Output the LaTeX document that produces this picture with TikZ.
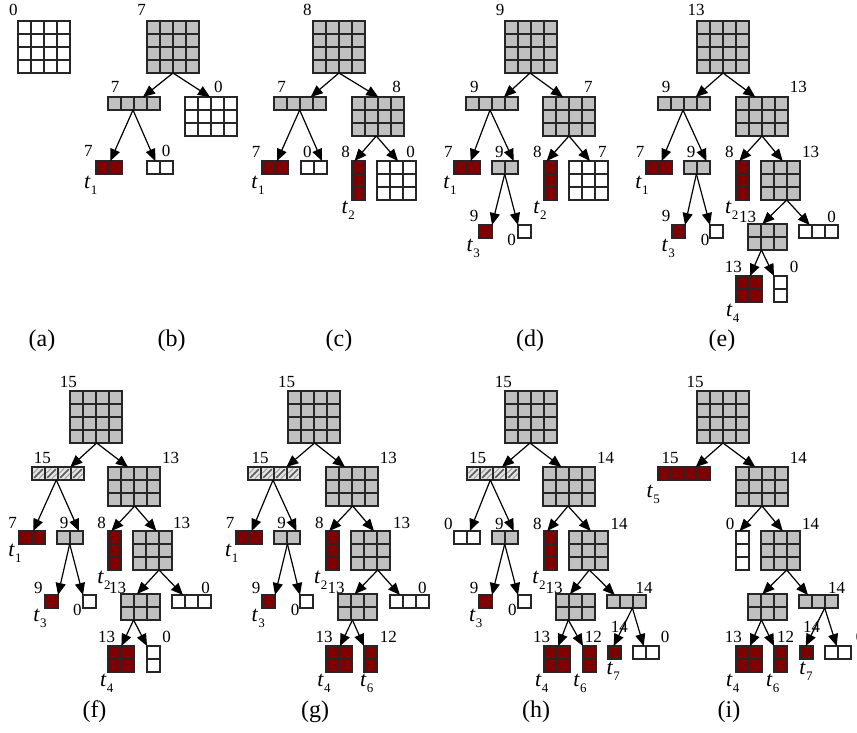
\documentclass[tikz,border=0pt]{standalone}
\usepackage{fontspec}
\setmainfont{Liberation Serif}
\usetikzlibrary{arrows.meta}

\definecolor{cellgray}{RGB}{192,192,192}
\definecolor{cellred}{RGB}{128,0,0}
\newcommand\cellsz{13pt}

% grid block: name, left x, top y, columns, rows, fill style (corner snapped to whole units)
\newcommand\blk[6]{%
  \node[cellbox,#6,minimum width=#4*\cellsz,minimum height=#5*\cellsz] (#1) at ({round(#2)},{round(#3)}) {};
  \foreach \k in {0,...,#4}{\draw[gridline] ([xshift=\k*\cellsz]#1.north west) -- ([xshift=\k*\cellsz]#1.south west);}
  \foreach \k in {0,...,#5}{\draw[gridline] ([yshift=-\k*\cellsz]#1.north west) -- ([yshift=-\k*\cellsz]#1.north east);}
}
% diagonal hatching of a one-row bar: name, columns
\newcommand\hatchcells[2]{%
  \foreach \k in {1,...,#2}{%
    \draw[hatchline] ([xshift=(\k-1)*\cellsz+2.5pt,yshift=2.5pt]#1.south west) -- ([xshift=\k*\cellsz-2.5pt,yshift=-2.5pt]#1.north west);
    \draw[hatchthin] ([xshift=(\k-1)*\cellsz+1.5pt,yshift=-6pt]#1.north west) -- ([xshift=(\k-1)*\cellsz+6pt,yshift=-1.5pt]#1.north west);
    \draw[hatchthin] ([xshift=\k*\cellsz-6pt,yshift=1.5pt]#1.south west) -- ([xshift=\k*\cellsz-1.5pt,yshift=6pt]#1.south west);
  }
}
% value label, t label, arrow
\newcommand\lab[4]{\node[numlab] (#1) at (#2,#3) {#4};}
\newcommand\tlab[4]{\node[tlabel] (#1) at (#2,#3) {\textit{t}\kern0.3pt\raisebox{-0.28em}{\fontsize{13}{13}\selectfont #4}};}
\newcommand\arr[4]{\draw[conn] ([xshift=#2pt]#1.south west) -- ([xshift=#4pt]#3.north west);}

\begin{document}
\begin{tikzpicture}[x=1pt,y=-1pt,
  cellbox/.style={rectangle,anchor=north west,inner sep=0pt,outer sep=0pt,draw=none},
  gcell/.style={fill=cellgray},
  rcell/.style={fill=cellred},
  wcell/.style={fill=white},
  hcell/.style={fill=gray!22},
  gridline/.style={line width=2pt,draw=black!85,line cap=rect},
  hatchline/.style={line width=1.6pt,draw=black!65,line cap=round},
  hatchthin/.style={line width=0.8pt,draw=black!40,line cap=round},
  numlab/.style={inner sep=0pt,font=\fontsize{17}{17}\selectfont},
  tlabel/.style={inner sep=0pt,font=\fontsize{22}{22}\selectfont},
  plab/.style={inner sep=0pt,font=\fontsize{24}{24}\selectfont},
  conn/.style={line width=1.2pt,-{Triangle[length=12pt,width=10pt]}}]

\fill[white] (0,0) rectangle (857,733);
\useasboundingbox (0,0) rectangle (857,733);

% ---------- (a)
\blk{a0}{18.3}{20.7}{4}{4}{wcell} \lab{a0n}{13.3}{10}{0}
\node[plab] (pa) at (42,341) {(a)};

% ---------- (b)
\blk{b0}{146.7}{20.7}{4}{4}{gcell} \lab{b0n}{141.7}{10}{7}
\blk{b1}{108.3}{97}{4}{1}{gcell} \lab{b1n}{115}{87.3}{7}
\blk{b2}{185}{97}{4}{3}{wcell} \lab{b2n}{218.3}{87.3}{0}
\blk{b3}{95.7}{161}{2}{1}{rcell} \lab{b3n}{88.3}{151}{7} \tlab{b3t}{90.7}{185}{1}
\blk{b4}{146.7}{161}{2}{1}{wcell} \lab{b4n}{166}{151}{0}
\arr{b0}{26}{b1}{35} \arr{b0}{26}{b2}{25}
\arr{b1}{25}{b3}{14.3} \arr{b1}{25}{b4}{8.3}
\node[plab] (pb) at (171.7,341) {(b)};

% ---------- (c)
\blk{c0}{313.3}{20.7}{4}{4}{gcell} \lab{c0n}{307.3}{10}{8}
\blk{c1}{274.3}{97}{4}{1}{gcell} \lab{c1n}{281.7}{87.3}{7}
\blk{c2}{351.7}{97}{4}{3}{gcell} \lab{c2n}{396.7}{87.3}{8}
\blk{c3}{262.3}{161}{2}{1}{rcell} \lab{c3n}{256}{151.7}{7} \tlab{c3t}{258}{185}{1}
\blk{c4}{300.7}{161}{2}{1}{wcell} \lab{c4n}{307.3}{151.7}{0}
\blk{c5}{351.7}{161}{1}{3}{rcell} \lab{c5n}{345.7}{151.7}{8} \tlab{c5t}{348.3}{210.7}{2}
\blk{c6}{377.3}{161}{3}{3}{wcell} \lab{c6n}{410.7}{151.7}{0}
\arr{c0}{26}{c1}{36.7} \arr{c0}{26}{c2}{26.3}
\arr{c1}{25.7}{c3}{15} \arr{c1}{25.7}{c4}{21}
\arr{c2}{24.3}{c5}{2.6} \arr{c2}{24.3}{c6}{21}
\node[plab] (pc) at (339,341) {(c)};

% ---------- (d)
\blk{d0}{505}{20.7}{4}{4}{gcell} \lab{d0n}{500}{10}{9}
\blk{d1}{466}{97}{4}{1}{gcell} \lab{d1n}{474.3}{87.3}{9}
\blk{d2}{543.3}{97}{4}{3}{gcell} \lab{d2n}{588.3}{87.3}{7}
\blk{d3}{454}{161}{2}{1}{rcell} \lab{d3n}{448.3}{151.7}{7} \tlab{d3t}{450}{185}{1}
\blk{d4}{492.3}{161}{2}{1}{gcell} \lab{d4n}{499.3}{151.7}{9}
\blk{d5}{544}{161}{1}{3}{rcell} \lab{d5n}{537.3}{151.7}{8} \tlab{d5t}{540}{210.7}{2}
\blk{d6}{569}{161}{3}{3}{wcell} \lab{d6n}{602.3}{151.7}{7}
\blk{d7}{479.3}{225}{1}{1}{rcell} \lab{d7n}{474}{216}{9} \tlab{d7t}{473.3}{248.3}{3}
\blk{d8}{517.7}{225}{1}{1}{wcell} \lab{d8n}{511.7}{240}{0}
\arr{d0}{25}{d1}{38} \arr{d0}{25}{d2}{20}
\arr{d1}{24}{d3}{16.7} \arr{d1}{24}{d4}{21.7}
\arr{d2}{26}{d5}{2.7} \arr{d2}{26}{d6}{21}
\arr{d4}{12.7}{d7}{13} \arr{d4}{12.7}{d8}{0}
\node[plab] (pd) at (530,341) {(d)};

% ---------- (e)
\blk{e0}{697.3}{20.7}{4}{4}{gcell} \lab{e0n}{696}{10}{13}
\blk{e1}{658.3}{97}{4}{1}{gcell} \lab{e1n}{666}{87.3}{9}
\blk{e2}{735.7}{97}{4}{3}{gcell} \lab{e2n}{798.3}{87.3}{13}
\blk{e3}{646}{161}{2}{1}{rcell} \lab{e3n}{640}{151.7}{7} \tlab{e3t}{642}{185}{1}
\blk{e4}{684.3}{161}{2}{1}{gcell} \lab{e4n}{691}{151.7}{9}
\blk{e5}{736}{161}{1}{3}{rcell} \lab{e5n}{729.3}{151.7}{8} \tlab{e5t}{731.7}{210.7}{2}
\blk{e6}{761}{161}{3}{3}{gcell} \lab{e6n}{810.7}{151.7}{13}
\blk{e7}{671.7}{225}{1}{1}{rcell} \lab{e7n}{666}{216}{9} \tlab{e7t}{668.3}{248.3}{3}
\blk{e8}{710}{225}{1}{1}{wcell} \lab{e8n}{705}{240}{0}
\blk{e9}{748.3}{224.3}{3}{2}{gcell} \lab{e9n}{747.5}{216.7}{13}
\blk{e10}{799.3}{225}{3}{1}{wcell} \lab{e10n}{831.7}{216.7}{0}
\blk{e11}{736}{276}{2}{2}{rcell} \lab{e11n}{733.3}{266.7}{13} \tlab{e11t}{732.7}{313.3}{4}
\blk{e12}{774.3}{276}{1}{2}{wcell} \lab{e12n}{794}{266.7}{0}
\arr{e0}{26}{e1}{37.7} \arr{e0}{26}{e2}{19.3}
\arr{e1}{25}{e3}{15.7} \arr{e1}{25}{e4}{22.4}
\arr{e4}{12.4}{e7}{13} \arr{e4}{12.4}{e8}{0}
\arr{e2}{26}{e5}{3.3} \arr{e2}{26}{e6}{21.7}
\arr{e6}{25.7}{e9}{14.4} \arr{e6}{25.7}{e10}{10.7}
\arr{e9}{13.4}{e11}{14} \arr{e9}{13.4}{e12}{0}
\node[plab] (pe) at (722,341) {(e)};

% ---------- (f)
\blk{f0}{70}{390.7}{4}{4}{gcell} \lab{f0n}{68.3}{381.7}{15}
\blk{f1}{31.7}{467}{4}{1}{hcell} \hatchcells{f1}{4} \lab{f1n}{42.3}{458.3}{15}
\blk{f2}{108.3}{467}{4}{3}{gcell} \lab{f2n}{170.7}{458.3}{13}
\blk{f3}{19}{531}{2}{1}{rcell} \lab{f3n}{12.7}{523.3}{7} \tlab{f3t}{15}{553.3}{1}
\blk{f4}{57.3}{531}{2}{1}{gcell} \lab{f4n}{64}{523.3}{9}
\blk{f5}{108.3}{531}{1}{3}{rcell} \lab{f5n}{101.7}{523.3}{8} \tlab{f5t}{104}{580.7}{2}
\blk{f6}{133.3}{531}{3}{3}{gcell} \lab{f6n}{181.7}{523.3}{13}
\blk{f7}{45}{595}{1}{1}{rcell} \lab{f7n}{38.3}{588.3}{9} \tlab{f7t}{40}{618.3}{3}
\blk{f8}{83.3}{595}{1}{1}{wcell} \lab{f8n}{77.3}{610}{0}
\blk{f9}{120.7}{594.3}{3}{2}{gcell} \lab{f9n}{117.5}{588.3}{13}
\blk{f10}{172.3}{595}{3}{1}{wcell} \lab{f10n}{205.7}{588.3}{0}
\blk{f11}{108.3}{646}{2}{2}{rcell} \lab{f11n}{106.7}{636.7}{13} \tlab{f11t}{106.7}{683.3}{4}
\blk{f12}{146.7}{646}{1}{2}{wcell} \lab{f12n}{166.7}{636.7}{0}
\arr{f0}{26.7}{f1}{38.3} \arr{f0}{26.7}{f2}{20}
\arr{f1}{24.3}{f3}{14.3} \arr{f1}{24.3}{f4}{22}
\arr{f4}{12.7}{f7}{13} \arr{f4}{12.7}{f8}{0}
\arr{f2}{26.7}{f5}{3.4} \arr{f2}{26.7}{f6}{23.4}
\arr{f6}{26}{f9}{16} \arr{f6}{26}{f10}{11}
\arr{f9}{12.6}{f11}{13.4} \arr{f9}{12.6}{f12}{0}
\node[plab] (pf) at (94.5,712) {(f)};

% ---------- (g)
\blk{g0}{287.7}{390.7}{4}{4}{gcell} \lab{g0n}{286.7}{381.7}{15}
\blk{g1}{248.3}{467}{4}{1}{hcell} \hatchcells{g1}{4} \lab{g1n}{260}{458.3}{15}
\blk{g2}{326}{467}{4}{3}{gcell} \lab{g2n}{388.3}{458.3}{13}
\blk{g3}{236}{531}{2}{1}{rcell} \lab{g3n}{230}{523.3}{7} \tlab{g3t}{231.7}{553.3}{1}
\blk{g4}{274.3}{531}{2}{1}{gcell} \lab{g4n}{281.7}{523.3}{9}
\blk{g5}{326}{531}{1}{3}{rcell} \lab{g5n}{319.3}{523.3}{8} \tlab{g5t}{320.7}{580.7}{2}
\blk{g6}{351}{531}{3}{3}{gcell} \lab{g6n}{401.7}{523.3}{13}
\blk{g7}{261.7}{595}{1}{1}{rcell} \lab{g7n}{256}{588.3}{9} \tlab{g7t}{258.3}{618.3}{3}
\blk{g8}{300}{595}{1}{1}{wcell} \lab{g8n}{295}{610}{0}
\blk{g9}{338.3}{594.3}{3}{2}{gcell} \lab{g9n}{336}{588.3}{13}
\blk{g10}{390}{595}{3}{1}{wcell} \lab{g10n}{422.3}{588.3}{0}
\blk{g11}{326}{646}{2}{2}{rcell} \lab{g11n}{324}{636.7}{13} \tlab{g11t}{324}{683.3}{4}
\blk{g12}{364.3}{646}{1}{2}{rcell} \lab{g12n}{388.3}{636.7}{12} \tlab{g12t}{366.7}{683.3}{6}
\arr{g0}{26.6}{g1}{38.4} \arr{g0}{26.6}{g2}{19}
\arr{g1}{25}{g3}{15.7} \arr{g1}{25}{g4}{22.4}
\arr{g4}{13.4}{g7}{13} \arr{g4}{13.4}{g8}{0}
\arr{g2}{26.7}{g5}{3.3} \arr{g2}{26.7}{g6}{23}
\arr{g6}{26.7}{g9}{16.7} \arr{g6}{26.7}{g10}{10}
\arr{g9}{14.4}{g11}{14} \arr{g9}{14.4}{g12}{0}
\node[plab] (pg) at (315,712) {(g)};

% ---------- (h)
\blk{h0}{505}{390.7}{4}{4}{gcell} \lab{h0n}{503.3}{381.7}{15}
\blk{h1}{466.7}{467}{4}{1}{hcell} \hatchcells{h1}{4} \lab{h1n}{477.7}{458.3}{15}
\blk{h2}{543.3}{467}{4}{3}{gcell} \lab{h2n}{605.7}{458.3}{14}
\blk{h3}{454}{531}{2}{1}{wcell} \lab{h3n}{448.3}{524}{0}
\blk{h4}{492.3}{531}{2}{1}{gcell} \lab{h4n}{499.3}{524}{9}
\blk{h5}{544}{531}{1}{3}{rcell} \lab{h5n}{537.3}{524}{8} \tlab{h5t}{539}{580.7}{2}
\blk{h6}{569}{531}{3}{3}{gcell} \lab{h6n}{619}{524}{14}
\blk{h7}{479.3}{595}{1}{1}{rcell} \lab{h7n}{474}{588.3}{9} \tlab{h7t}{475.7}{618.3}{3}
\blk{h8}{517.7}{595}{1}{1}{wcell} \lab{h8n}{512.3}{610}{0}
\blk{h9}{556}{594.3}{3}{2}{gcell} \lab{h9n}{554}{588.3}{13}
\blk{h10}{607.3}{595}{3}{1}{gcell} \lab{h10n}{644}{588.3}{14}
\blk{h11}{544}{646}{2}{2}{rcell} \lab{h11n}{541.7}{636.7}{13} \tlab{h11t}{541.7}{683.3}{4}
\blk{h12}{582.7}{646}{1}{2}{rcell} \lab{h12n}{593.3}{636.7}{12} \tlab{h12t}{580}{683.3}{6}
\blk{h13}{607.7}{646}{1}{1}{rcell} \lab{h13n}{619.3}{626.7}{14} \tlab{h13t}{613.3}{671.7}{7}
\blk{h14}{633.3}{646}{2}{1}{wcell} \lab{h14n}{665}{636.7}{0}
\arr{h0}{25}{h1}{35} \arr{h0}{25}{h2}{18.4}
\arr{h1}{23.3}{h3}{16} \arr{h1}{23.3}{h4}{21.7}
\arr{h4}{12.7}{h7}{13} \arr{h4}{12.7}{h8}{0}
\arr{h2}{25}{h5}{3.3} \arr{h2}{25}{h6}{21.7}
\arr{h6}{20.3}{h9}{14} \arr{h6}{20.3}{h10}{7.7}
\arr{h9}{12.3}{h11}{14.3} \arr{h9}{12.3}{h12}{0}
\arr{h10}{25.4}{h13}{5.6} \arr{h10}{25.4}{h14}{10.7}
\node[plab] (ph) at (536,712) {(h)};

% ---------- (i)
\blk{i0}{697.3}{390.7}{4}{4}{gcell} \lab{i0n}{695}{381.7}{15}
\blk{i1}{658.3}{467}{4}{1}{rcell} \lab{i1n}{670}{458.3}{15} \tlab{i1t}{653.3}{494}{5}
\blk{i2}{735.7}{467}{4}{3}{gcell} \lab{i2n}{798.3}{458.3}{14}
\blk{i5}{735.7}{531}{1}{3}{wcell} \lab{i5n}{730}{524}{0}
\blk{i6}{761}{531}{3}{3}{gcell} \lab{i6n}{810.7}{524}{14}
\blk{i9}{748.3}{594.3}{3}{2}{gcell}
\blk{i10}{799.3}{595}{3}{1}{gcell} \lab{i10n}{836.7}{588.3}{14}
\blk{i11}{736}{646}{2}{2}{rcell} \lab{i11n}{733.3}{636.7}{13} \tlab{i11t}{732.7}{683.3}{4}
\blk{i12}{774.3}{646}{1}{2}{rcell} \lab{i12n}{785.7}{636.7}{12} \tlab{i12t}{772.7}{683.3}{6}
\blk{i13}{800}{646}{1}{1}{rcell} \lab{i13n}{811.7}{626.7}{14} \tlab{i13t}{806}{671.7}{7}
\blk{i14}{825}{646}{2}{1}{wcell} \lab{i14n}{860}{636.7}{0}
\arr{i0}{26}{i1}{37.7} \arr{i0}{26}{i2}{19.3}
\arr{i2}{26}{i5}{3.6} \arr{i2}{26}{i6}{21.7}
\arr{i6}{25.7}{i9}{14.4} \arr{i6}{25.7}{i10}{9}
\arr{i9}{13.4}{i11}{14} \arr{i9}{13.4}{i12}{0}
\arr{i10}{25.7}{i13}{5.7} \arr{i10}{25.7}{i14}{11.7}
\node[plab] (pi) at (729,712) {(i)};
\end{tikzpicture}
\end{document}
